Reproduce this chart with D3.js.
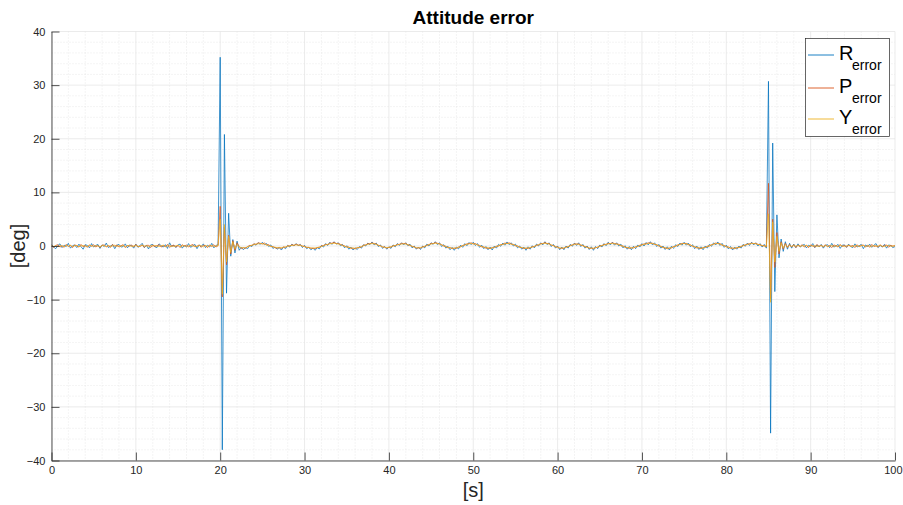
<!DOCTYPE html>
<html>
<head>
<meta charset="utf-8">
<script src="https://cdn.jsdelivr.net/npm/d3@7/dist/d3.min.js"></script>
<style>
  html, body { margin: 0; padding: 0; background: #fff; }
  svg { display: block; }
  text { font-family: "Liberation Sans", Arial, Helvetica, sans-serif; }
</style>
</head>
<body>
<svg id="chart" width="903" height="505"></svg>
<script>
// Sample spacing of the logged attitude errors, in seconds (t = index * step).
const sampleStep = 0.25;

// Roll error [deg]
const rError = [
  0.3,-0.2,-0.5,0.1,0.4,-0.3,0.15,-0.1,0.5,-0.4,0.05,0.2,-0.3,0.35,-0.15,-0.6,0.25,0.1,-0.35,0.45,
  -0.2,0.1,0.3,-0.45,0.2,-0.1,0.55,-0.3,0,0.25,-0.5,0.15,0.3,-0.2,-0.1,0.4,-0.35,0.2,0.05,-0.4,
  0.35,-0.25,0.1,0.5,-0.3,0.15,-0.55,0.2,0.3,-0.15,-0.3,0.4,0.05,-0.2,0.25,-0.45,0.6,-0.1,0.15,-0.3,
  0.2,0.35,-0.4,0.1,-0.2,0.45,-0.25,0.05,0.3,-0.5,0.2,-0.1,0.4,-0.3,0.15,-0.2,0.5,-0.35,0.1,0.25,
  35.2,-38.0,20.8,-8.8,6.1,-1.9,1.2,
  -1.3,0.9,-0.8,-0.2,-0.7,-0.3,-0.5,0.1,-0.1,0.4,0.15,0.6,0.3,0.7,0.25,0.45,-0.1,0.2,-0.45,-0.2,
  -0.6,-0.3,-0.75,-0.2,-0.5,0.1,-0.2,0.35,0,0.45,0.05,0.3,-0.3,0.1,-0.5,-0.25,-0.7,-0.4,-0.8,-0.3,
  -0.55,0.1,-0.2,0.45,0.1,0.7,0.3,0.8,0.35,0.6,0.05,0.3,-0.35,0.05,-0.6,-0.2,-0.75,-0.35,-0.65,-0.1,
  -0.4,0.25,0,0.55,0.25,0.75,0.2,0.55,-0.1,0.2,-0.45,-0.1,-0.6,-0.15,-0.45,0.2,-0.15,0.45,0.1,0.6,
  0.2,0.6,0.05,0.35,-0.35,0,-0.6,-0.2,-0.65,0,-0.35,0.35,0,0.6,0.3,0.8,0.25,0.6,-0.1,0.25,
  -0.4,-0.05,-0.7,-0.25,-0.8,-0.2,-0.55,0.15,-0.25,0.45,0.05,0.65,0.25,0.7,0.1,0.45,-0.25,0.15,-0.5,-0.1,
  -0.7,-0.2,-0.75,0,-0.4,0.3,-0.05,0.55,0.15,0.75,0.25,0.6,0,0.35,-0.35,0,-0.6,-0.2,-0.8,-0.15,
  -0.6,0.05,-0.35,0.35,0,0.6,0.2,0.8,0.25,0.6,-0.1,0.3,-0.4,0,-0.7,-0.2,-0.7,0,-0.4,0.3,
  -0.05,0.55,0.1,0.6,-0.1,0.3,-0.4,0,-0.65,-0.15,-0.8,-0.1,-0.5,0.2,-0.2,0.45,0.05,0.7,0.2,0.7,
  0.15,0.6,0,0.35,-0.35,0.05,-0.6,-0.1,-0.7,-0.05,-0.5,0.2,-0.2,0.45,0,0.65,0.2,0.8,0.2,0.6,
  -0.1,0.3,-0.4,0,-0.65,-0.15,-0.75,-0.05,-0.45,0.25,-0.1,0.55,0.15,0.7,0.15,0.55,-0.15,0.25,-0.5,0,
  -0.65,-0.15,-0.7,0,-0.4,0.3,-0.05,0.6,0.2,0.75,0.1,0.5,-0.25,0.15,-0.55,-0.1,-0.75,-0.2,-0.6,0,
  -0.4,0.3,-0.05,0.55,0.1,0.7,0.2,0.6,0,0.45,-0.2,0.3,-0.4,
  30.7,-34.9,19.2,-8.5,5.8,-2.2,1.3,
  -1.0,0.8,-0.6,0.5,-0.4,0.35,-0.3,0.4,-0.2,0.1,0.3,-0.35,0.15,-0.1,0.45,-0.3,0.2,-0.15,0.3,-0.4,
  0.1,0.25,-0.3,0.5,-0.2,0,0.3,-0.45,0.15,0.2,-0.25,0.35,-0.1,-0.3,0.4,-0.2,0.05,0.3,-0.5,0.2,
  -0.1,0.35,-0.25,0.15,0.45,-0.3,0.1,-0.2,0.3,-0.4,0.2,0.05,-0.3,-0.1
];

// Pitch error [deg]
const pError = [
  0.2,-0.3,0.1,0.25,-0.2,0.05,-0.25,0.3,-0.1,0.15,-0.3,0.2,0.05,-0.2,0.3,-0.15,0.1,-0.25,0.2,-0.05,
  0.25,-0.2,0.1,-0.3,0.15,0.2,-0.15,0.05,-0.25,0.3,-0.1,0.2,-0.2,0.05,0.25,-0.3,0.1,-0.05,0.2,-0.2,
  0.3,-0.15,-0.05,0.2,-0.25,0.1,0.15,-0.3,0.2,-0.1,0.05,0.25,-0.2,0.1,-0.15,0.3,-0.25,0.05,0.15,-0.2,
  0.1,-0.3,0.25,-0.05,0.2,-0.2,0.1,0.3,-0.15,-0.05,0.2,-0.25,0.15,0.05,-0.3,0.2,-0.1,0.25,-0.2,0.1,
  7.4,-9.5,3.5,-3.5,2.0,-1.5,1.0,
  -0.8,0.6,-0.1,-0.5,-0.3,-0.45,-0.1,0.1,0.1,0.4,0.3,0.6,0.5,0.4,0.55,0.2,0.25,-0.1,-0.1,-0.35,
  -0.4,-0.3,-0.45,-0.2,-0.25,0.05,0,0.25,0.1,0.35,0.15,0.2,-0.05,-0.05,-0.3,-0.25,-0.45,-0.4,-0.5,-0.3,
  -0.25,0,0.1,0.3,0.25,0.55,0.5,0.7,0.45,0.5,0.3,0.15,0,-0.2,-0.2,-0.45,-0.4,-0.55,-0.3,-0.3,
  -0.15,0.15,0.2,0.45,0.4,0.6,0.45,0.4,0.1,0.05,-0.2,-0.2,-0.4,-0.25,-0.2,0.05,0.05,0.3,0.3,0.5,
  0.45,0.5,0.2,0.15,-0.1,-0.15,-0.4,-0.35,-0.4,-0.15,-0.1,0.15,0.25,0.5,0.45,0.65,0.5,0.4,0.25,0,
  -0.05,-0.35,-0.3,-0.5,-0.4,-0.45,-0.2,-0.15,0.1,0.2,0.4,0.45,0.6,0.4,0.45,0.2,0.1,-0.15,-0.2,-0.4,
  -0.4,-0.5,-0.3,-0.3,-0.05,0,0.25,0.3,0.55,0.45,0.6,0.35,0.3,0.05,0,-0.25,-0.3,-0.5,-0.4,-0.45,
  -0.35,-0.15,-0.1,0.15,0.2,0.45,0.45,0.65,0.45,0.45,0.15,0.1,-0.15,-0.2,-0.45,-0.4,-0.45,-0.2,-0.15,0.1,
  0.2,0.4,0.35,0.4,0.15,0.1,-0.15,-0.2,-0.45,-0.4,-0.5,-0.3,-0.25,0,0.05,0.3,0.3,0.5,0.45,0.6,
  0.45,0.4,0.3,0.05,0,-0.25,-0.3,-0.45,-0.35,-0.35,-0.15,-0.1,0.15,0.2,0.4,0.4,0.6,0.55,0.5,0.3,
  0.25,0,-0.05,-0.3,-0.35,-0.5,-0.4,-0.35,-0.1,-0.05,0.2,0.3,0.5,0.45,0.5,0.25,0.2,-0.05,-0.15,-0.35,
  -0.35,-0.5,-0.3,-0.3,-0.05,0,0.25,0.35,0.55,0.45,0.45,0.15,0.1,-0.15,-0.2,-0.4,-0.4,-0.5,-0.3,-0.3,
  -0.1,0.1,0.2,0.35,0.4,0.55,0.45,0.5,0.3,0.25,0.05,0.05,-0.15,
  11.7,-9.8,5.0,-4.0,2.5,-1.5,0.8,
  -0.6,0.5,-0.3,0.3,-0.2,0.25,-0.3,0.2,-0.1,0.25,-0.2,0.15,-0.3,0.2,0.05,-0.25,0.3,-0.1,0.15,-0.2,
  0.25,-0.15,0.1,-0.3,0.2,0.05,-0.2,0.3,-0.1,0.15,-0.25,0.2,-0.05,0.1,-0.3,0.25,-0.15,0.1,0.2,-0.2,
  0.15,-0.25,0.3,-0.1,0.05,-0.2,0.25,-0.15,0.1,0.2,-0.25,0.15,-0.05,0.1
];

// Yaw error [deg]
const yError = [
  0.1,-0.1,0.05,-0.15,0.1,0,-0.1,0.15,-0.05,0.1,-0.1,0.05,0.1,-0.15,0,0.1,-0.05,-0.1,0.15,0.05,
  -0.1,0.1,0,-0.15,0.1,0.05,-0.1,0.1,-0.05,0,0.15,-0.1,0.05,-0.05,0.1,-0.15,0.05,0.1,-0.1,0,
  0.1,-0.05,-0.1,0.15,0,0.05,-0.15,0.1,-0.05,0.1,0,-0.1,0.05,0.15,-0.1,0,0.1,-0.05,-0.1,0.05,
  0.15,-0.1,0,0.1,-0.15,0.05,0.1,-0.05,0,-0.1,0.1,0.05,-0.15,0.1,-0.05,0,0.1,-0.1,0.05,0,
  5.0,-9.0,4.0,-3.0,1.8,-1.2,0.8,
  -0.5,0.3,-0.2,-0.3,-0.35,-0.3,-0.15,0,0.15,0.25,0.35,0.4,0.45,0.4,0.35,0.2,0.1,-0.05,-0.15,-0.25,
  -0.3,-0.35,-0.3,-0.25,-0.15,-0.05,0.05,0.1,0.15,0.2,0.15,0.1,0,-0.1,-0.2,-0.3,-0.35,-0.4,-0.35,-0.3,
  -0.2,-0.1,0.05,0.2,0.3,0.4,0.45,0.5,0.45,0.35,0.25,0.1,-0.05,-0.15,-0.25,-0.35,-0.4,-0.4,-0.35,-0.25,
  -0.1,0.05,0.2,0.3,0.4,0.45,0.4,0.3,0.15,0,-0.15,-0.25,-0.3,-0.25,-0.15,0,0.1,0.2,0.3,0.35,
  0.4,0.35,0.25,0.1,-0.05,-0.2,-0.3,-0.35,-0.3,-0.2,-0.05,0.1,0.25,0.35,0.45,0.5,0.45,0.35,0.2,0.05,
  -0.1,-0.25,-0.35,-0.4,-0.4,-0.35,-0.25,-0.1,0.05,0.2,0.3,0.4,0.45,0.4,0.35,0.2,0.05,-0.1,-0.2,-0.3,
  -0.35,-0.4,-0.35,-0.25,-0.1,0.05,0.2,0.3,0.4,0.45,0.45,0.35,0.25,0.1,-0.05,-0.2,-0.3,-0.4,-0.4,-0.35,
  -0.3,-0.2,-0.05,0.1,0.25,0.35,0.45,0.5,0.45,0.35,0.2,0.05,-0.1,-0.25,-0.35,-0.4,-0.35,-0.25,-0.1,0.05,
  0.2,0.3,0.35,0.3,0.2,0.05,-0.1,-0.25,-0.35,-0.4,-0.4,-0.35,-0.2,-0.05,0.1,0.2,0.3,0.4,0.45,0.45,
  0.4,0.35,0.25,0.1,-0.05,-0.2,-0.3,-0.35,-0.35,-0.3,-0.2,-0.05,0.1,0.2,0.3,0.4,0.45,0.5,0.45,0.35,
  0.2,0.05,-0.1,-0.25,-0.35,-0.4,-0.4,-0.3,-0.15,0,0.15,0.3,0.4,0.45,0.4,0.3,0.15,0,-0.15,-0.25,
  -0.35,-0.4,-0.35,-0.25,-0.1,0.05,0.2,0.35,0.45,0.45,0.35,0.2,0.05,-0.1,-0.25,-0.35,-0.4,-0.4,-0.35,-0.25,
  -0.1,0.05,0.2,0.3,0.4,0.45,0.45,0.4,0.3,0.2,0.1,0,-0.1,
  6.0,-10.5,4.5,-3.0,1.8,-1.0,0.6,
  -0.4,0.3,-0.2,0.15,-0.1,0.1,-0.05,0.1,-0.1,0.05,0,0.1,-0.1,0.05,-0.05,0.1,-0.1,0,0.05,-0.1,
  0.1,-0.05,0,0.1,-0.1,0.05,-0.05,0.1,0,-0.1,0.05,0.1,-0.05,-0.1,0.1,0,-0.05,0.05,0.1,-0.1,
  0,0.05,-0.1,0.1,-0.05,0,0.1,-0.05,-0.1,0.05,0.1,-0.05,0,0.05
];

const xTicks = [0, 10, 20, 30, 40, 50, 60, 70, 80, 90, 100];
const yTicks = [-40, -30, -20, -10, 0, 10, 20, 30, 40];
const seriesLabels = ["R", "P", "Y"];
const seriesColors = ["#0072BD", "#D95319", "#EDB120"];

const svg = d3.select("#chart");
const box = { left: 51.5, right: 895, top: 31.5, bottom: 460.5 };
const axisColor = "#262626";

const x = d3.scaleLinear().domain([0, 100]).range([box.left, box.right]);
const y = d3.scaleLinear().domain([-40, 40]).range([box.bottom, box.top]);

svg.append("rect").attr("width", 903).attr("height", 505).attr("fill", "#fff");

// grid: minor (dotted) then major
const grid = svg.append("g");
const minorX = x.ticks(50).filter(v => !xTicks.includes(v));
const minorY = y.ticks(40).filter(v => !yTicks.includes(v));
grid.selectAll(".mx").data(minorX).join("line")
  .attr("x1", d => x(d)).attr("x2", d => x(d))
  .attr("y1", box.top).attr("y2", box.bottom)
  .attr("stroke", "#dcdcdc").attr("stroke-width", 0.6).attr("stroke-dasharray", "1,2");
grid.selectAll(".my").data(minorY).join("line")
  .attr("y1", d => y(d)).attr("y2", d => y(d))
  .attr("x1", box.left).attr("x2", box.right)
  .attr("stroke", "#dcdcdc").attr("stroke-width", 0.6).attr("stroke-dasharray", "1,2");
grid.selectAll(".gx").data(xTicks).join("line")
  .attr("x1", d => x(d)).attr("x2", d => x(d))
  .attr("y1", box.top).attr("y2", box.bottom)
  .attr("stroke", "#e3e3e3").attr("stroke-width", 0.7);
grid.selectAll(".gy").data(yTicks).join("line")
  .attr("y1", d => y(d)).attr("y2", d => y(d))
  .attr("x1", box.left).attr("x2", box.right)
  .attr("stroke", "#e3e3e3").attr("stroke-width", 0.7);

// data lines
svg.append("clipPath").attr("id", "plotClip").append("rect")
  .attr("x", box.left).attr("y", box.top)
  .attr("width", box.right - box.left).attr("height", box.bottom - box.top);

const line = d3.line()
  .x((d, i) => x(i * sampleStep))
  .y(d => y(d));

const lines = svg.append("g").attr("clip-path", "url(#plotClip)");
[rError, pError, yError].forEach((series, k) => {
  lines.append("path")
    .datum(series)
    .attr("fill", "none")
    .attr("stroke", seriesColors[k])
    .attr("stroke-width", 0.75)
    .attr("stroke-linejoin", "round")
    .attr("d", line);
});

// axes (box off, ticks pointing inward)
const xAxis = d3.axisBottom(x).tickValues(xTicks).tickSizeInner(-8).tickSizeOuter(0).tickPadding(6);
const yAxis = d3.axisLeft(y).tickValues(yTicks).tickSizeInner(-8).tickSizeOuter(0).tickPadding(6);

const gx = svg.append("g").attr("transform", `translate(0,${box.bottom})`).call(xAxis);
const gy = svg.append("g").attr("transform", `translate(${box.left},0)`).call(yAxis);
[gx, gy].forEach(g => {
  g.select(".domain").attr("stroke", axisColor).attr("stroke-width", 0.8);
  g.selectAll(".tick line").attr("stroke", axisColor).attr("stroke-width", 0.8);
  g.selectAll(".tick text")
    .attr("fill", axisColor)
    .style("font-family", "'Liberation Sans', Arial, sans-serif")
    .style("font-size", "11px");
});
// keep the last x label inside the figure edge
gx.selectAll(".tick text").filter(d => d === 100)
  .attr("text-anchor", "end").attr("dx", "7");

// title and axis labels
svg.append("text")
  .attr("x", (box.left + box.right) / 2).attr("y", 24)
  .attr("text-anchor", "middle")
  .attr("fill", "#000")
  .style("font-weight", "bold").style("font-size", "19px")
  .text("Attitude error");

svg.append("text")
  .attr("x", (box.left + box.right) / 2).attr("y", 497)
  .attr("text-anchor", "middle")
  .attr("fill", axisColor)
  .style("font-size", "20px")
  .text("[s]");

svg.append("text")
  .attr("transform", `translate(25,${y(0)}) rotate(-90)`)
  .attr("text-anchor", "middle")
  .attr("fill", axisColor)
  .style("font-size", "20px")
  .text("[deg]");

// legend
const legend = svg.append("g");
legend.append("rect")
  .attr("x", 805.5).attr("y", 38.5).attr("width", 84).attr("height", 98)
  .attr("fill", "#fff").attr("stroke", axisColor).attr("stroke-width", 0.7);

const rowY = [55, 88, 119];
seriesLabels.forEach((label, k) => {
  legend.append("line")
    .attr("x1", 808).attr("x2", 834)
    .attr("y1", rowY[k]).attr("y2", rowY[k])
    .attr("stroke", seriesColors[k]).attr("stroke-width", 0.9);
  legend.append("text")
    .attr("x", 839).attr("y", rowY[k] + 5)
    .attr("fill", "#000")
    .style("font-size", "20px")
    .text(label);
  legend.append("text")
    .attr("x", 852).attr("y", rowY[k] + 15)
    .attr("fill", "#000")
    .style("font-size", "14px")
    .text("error");
});
</script>
</body>
</html>
